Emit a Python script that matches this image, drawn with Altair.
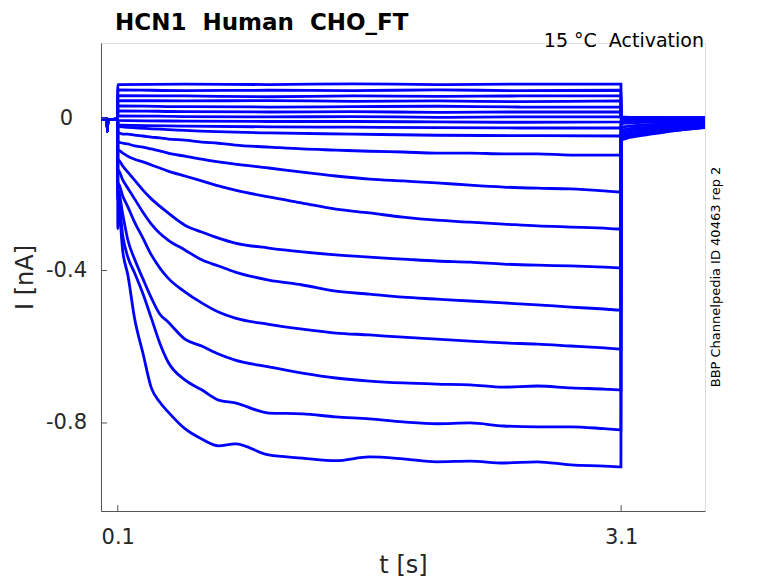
import altair as alt
import pandas as pd

# ---------------- data ----------------
# holding period before the step (shared by all sweeps)
t_pre = [0.0, 0.037, 0.038, 0.041, 0.0995]
I_pre = [-0.002, -0.003, -0.035, -0.004, -0.003]

# nearly flat sweeps (1-10), sampled coarsely
t_flat = [0.1, 0.5, 1.0, 1.5, 2.0, 2.5, 3.099]
flat_traces = [
    [0.088, 0.089, 0.088, 0.090, 0.088, 0.089, 0.089],
    [0.074, 0.072, 0.073, 0.072, 0.074, 0.072, 0.073],
    [0.059, 0.058, 0.056, 0.058, 0.057, 0.058, 0.058],
    [0.046, 0.045, 0.046, 0.044, 0.045, 0.043, 0.045],
    [0.032, 0.030, 0.029, 0.030, 0.031, 0.029, 0.029],
    [0.019, 0.017, 0.016, 0.017, 0.015, 0.016, 0.016],
    [0.006, 0.004, 0.003, 0.004, 0.002, 0.003, 0.003],
    [-0.006, -0.008, -0.009, -0.009, -0.010, -0.011, -0.010],
    [-0.018, -0.021, -0.023, -0.024, -0.025, -0.026, -0.026],
    [-0.022, -0.032, -0.039, -0.042, -0.045, -0.046, -0.047],
]

# activating sweeps (11-19)
t_step = [0.1, 0.102, 0.13, 0.16, 0.2, 0.25, 0.3, 0.35, 0.4, 0.5, 0.6, 0.7,
          0.8, 1.0, 1.2, 1.4, 1.6, 1.8, 2.0, 2.2, 2.4, 2.6, 2.8, 3.0, 3.099]
act_traces = [
    [-0.040, -0.039, -0.042, -0.042, -0.045, -0.047, -0.050, -0.052, -0.055, -0.058, -0.063, -0.066,
     -0.071, -0.076, -0.081, -0.084, -0.087, -0.089, -0.092, -0.092, -0.094, -0.094, -0.097, -0.097, -0.097],
    [-0.064, -0.063, -0.066, -0.068, -0.073, -0.076, -0.081, -0.086, -0.092, -0.100, -0.108, -0.115,
     -0.121, -0.131, -0.142, -0.152, -0.160, -0.165, -0.170, -0.176, -0.181, -0.184, -0.186, -0.191, -0.194],
    [-0.086, -0.084, -0.092, -0.100, -0.108, -0.115, -0.123, -0.131, -0.139, -0.152, -0.165, -0.178,
     -0.189, -0.207, -0.223, -0.239, -0.249, -0.260, -0.268, -0.273, -0.278, -0.283, -0.286, -0.289, -0.291],
    [-0.112, -0.110, -0.126, -0.142, -0.163, -0.189, -0.212, -0.231, -0.249, -0.281, -0.299, -0.315,
     -0.328, -0.341, -0.351, -0.359, -0.365, -0.370, -0.375, -0.378, -0.383, -0.386, -0.388, -0.391, -0.393],
    [-0.138, -0.136, -0.163, -0.184, -0.212, -0.247, -0.278, -0.302, -0.320, -0.346, -0.372, -0.388,
     -0.404, -0.425, -0.438, -0.454, -0.462, -0.470, -0.475, -0.480, -0.485, -0.490, -0.496, -0.501, -0.504],
    [-0.175, -0.170, -0.205, -0.233, -0.273, -0.315, -0.359, -0.393, -0.420, -0.456, -0.485, -0.509,
     -0.525, -0.541, -0.554, -0.564, -0.569, -0.575, -0.580, -0.585, -0.590, -0.593, -0.598, -0.603, -0.606],
    [-0.200, -0.189, -0.254, -0.320, -0.370, -0.422, -0.472, -0.514, -0.535, -0.580, -0.598, -0.619,
     -0.635, -0.653, -0.669, -0.682, -0.690, -0.695, -0.698, -0.700, -0.706, -0.703, -0.708, -0.711, -0.713],
    [-0.215, -0.205, -0.310, -0.365, -0.406, -0.461, -0.525, -0.590, -0.640, -0.687, -0.713, -0.740,
     -0.747, -0.774, -0.776, -0.784, -0.789, -0.797, -0.802, -0.800, -0.808, -0.810, -0.810, -0.815, -0.818],
    [-0.290, -0.220, -0.351, -0.412, -0.525, -0.617, -0.708, -0.745, -0.771, -0.815, -0.842, -0.860,
     -0.855, -0.884, -0.892, -0.899, -0.889, -0.894, -0.902, -0.900, -0.905, -0.902, -0.910, -0.913, -0.915],
]

# tail currents after the step (one row per sweep, 1-19)
t_tail = [3.1, 3.15, 3.25, 3.4, 3.6]
tail_traces = [
    [0.003, 0.002, 0.002, 0.001, 0.001],
    [0.002, 0.002, 0.001, 0.001, 0.001],
    [0.001, 0.001, 0.001, 0.000, 0.000],
    [0.000, 0.000, 0.000, 0.000, 0.000],
    [-0.001, -0.001, 0.000, 0.000, 0.000],
    [-0.002, -0.001, -0.001, -0.001, 0.000],
    [-0.003, -0.002, -0.002, -0.001, -0.001],
    [-0.004, -0.003, -0.003, -0.002, -0.002],
    [-0.006, -0.005, -0.004, -0.003, -0.003],
    [-0.009, -0.008, -0.007, -0.005, -0.004],
    [-0.015, -0.013, -0.011, -0.009, -0.007],
    [-0.024, -0.021, -0.018, -0.014, -0.011],
    [-0.032, -0.028, -0.024, -0.019, -0.014],
    [-0.039, -0.034, -0.029, -0.023, -0.017],
    [-0.045, -0.040, -0.034, -0.027, -0.020],
    [-0.050, -0.044, -0.038, -0.030, -0.022],
    [-0.053, -0.047, -0.040, -0.032, -0.023],
    [-0.056, -0.049, -0.042, -0.033, -0.024],
    [-0.058, -0.051, -0.044, -0.034, -0.025],
]

x_ticks = [0.1, 3.1]
y_ticks = [0, -0.4, -0.8]
y_tick_labels = ["0", "-0.4", "-0.8"]

NB = "\u00a0"
title_text = f"HCN1{NB} Human{NB} CHO_FT"
subtitle_text = f"15 \u00b0C{NB} Activation"
side_text = "BBP Channelpedia ID 40463 rep 2"

# ---------------- build table ----------------
rows = []
step_parts = [(t_flat, v) for v in flat_traces] + [(t_step, v) for v in act_traces]
for i, (ts, vs) in enumerate(step_parts):
    k = 0
    for t, v in zip(t_pre, I_pre):
        rows.append({"sweep": i, "k": k, "t": t, "I": v}); k += 1
    for t, v in zip(ts, vs):
        rows.append({"sweep": i, "k": k, "t": t, "I": v}); k += 1
    for t, v in zip(t_tail, tail_traces[i]):
        rows.append({"sweep": i, "k": k, "t": t, "I": v}); k += 1
df = pd.DataFrame(rows)

W, H = 604, 468
FONT = "DejaVu Sans"
TXT = "#262626"

label_expr = ""
for v, s in zip(y_ticks, y_tick_labels):
    label_expr += f"abs(datum.value - ({v})) < 1e-6 ? '{s}' : "
label_expr += "''"

xscale = alt.Scale(domain=[0, 3.6], nice=False, zero=False)
yscale = alt.Scale(domain=[-1.031, 0.197], nice=False, zero=False)

lines = alt.Chart(df).mark_line(color="#0000ff", strokeWidth=2.8, clip=True,
                                interpolate="monotone").encode(
    x=alt.X("t:Q", scale=xscale,
            axis=alt.Axis(values=x_ticks, format=".1f", tickSize=0, labelPadding=15,
                          labelFontSize=21, labelFont=FONT, labelColor=TXT,
                          title="t [s]", titleFontSize=24, titleFont=FONT,
                          titleFontWeight="normal", titleColor=TXT, titlePadding=6,
                          grid=False, domainColor="#555555", domainWidth=1)),
    y=alt.Y("I:Q", scale=yscale,
            axis=alt.Axis(values=y_ticks, labelExpr=label_expr, tickSize=0,
                          labelAlign="center", labelBaseline="middle", labelPadding=35,
                          labelFontSize=21, labelFont=FONT, labelColor=TXT,
                          title="I [nA]", titleFontSize=24, titleFont=FONT,
                          titleFontWeight="normal", titleColor=TXT, titlePadding=8,
                          grid=False, domainColor="#555555", domainWidth=1)),
    detail="sweep:N",
    order="k:Q",
)

xt = alt.Chart(pd.DataFrame({"t": x_ticks})).mark_rule(color="#555555", strokeWidth=1).encode(
    x="t:Q", y=alt.value(H), y2=alt.value(H - 6))
yt = alt.Chart(pd.DataFrame({"I": y_ticks})).mark_rule(color="#555555", strokeWidth=1).encode(
    y="I:Q", x=alt.value(0), x2=alt.value(6))

one = pd.DataFrame({"a": [0]})
title = alt.Chart(one).mark_text(align="left", baseline="alphabetic", font=FONT,
                                 fontSize=23, fontWeight="bold", color="#000000").encode(
    x=alt.value(14), y=alt.value(-13), text=alt.value(title_text))
sub = alt.Chart(one).mark_text(align="right", baseline="alphabetic", font=FONT,
                               fontSize=19, color="#000000").encode(
    x=alt.value(603), y=alt.value(4), text=alt.value(subtitle_text))
side = alt.Chart(one).mark_text(align="center", baseline="middle", font=FONT,
                                fontSize=13, angle=270, color="#000000").encode(
    x=alt.value(615), y=alt.value(234), text=alt.value(side_text))

chart = alt.layer(lines, xt, yt, title, sub, side).properties(
    width=W, height=H,
    autosize=alt.AutoSizeParams(type="none"),
    padding={"left": 93, "top": 35, "right": 65, "bottom": 72},
).configure_view(stroke=None).configure(background="white")

chart.save("out.html", embed_options={"renderer": "svg", "actions": False})
